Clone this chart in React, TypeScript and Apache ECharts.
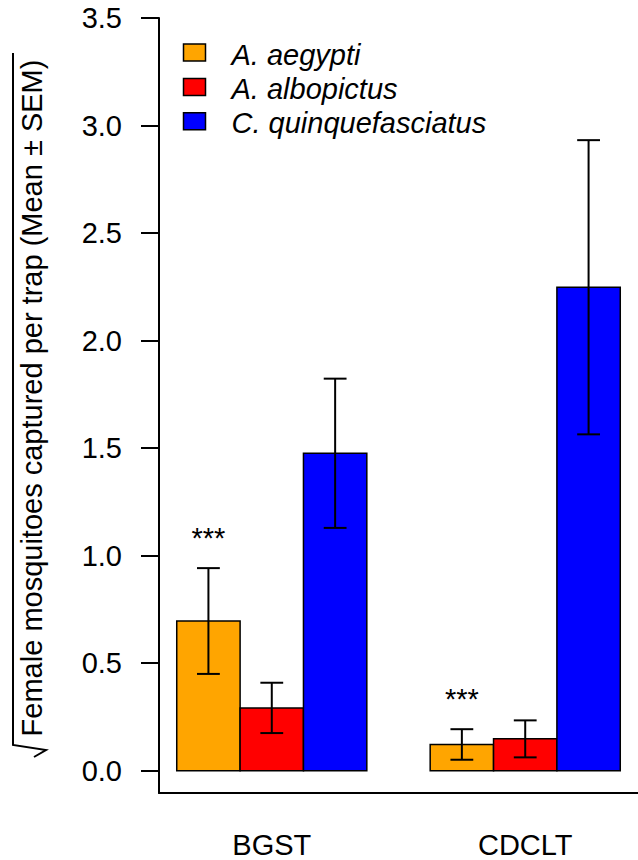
import React, { useEffect, useRef } from "react";
import * as echarts from "echarts";

const categories = ["BGST", "CDCLT"];
const speciesNames = ["A. aegypti", "A. albopictus", "C. quinquefasciatus"];
const speciesColors = ["#FFA500", "#FF0000", "#0000FF"];
const aegyptiMean = [0.696, 0.122];
const aegyptiSem = [0.246, 0.071];
const albopictusMean = [0.292, 0.148];
const albopictusSem = [0.117, 0.086];
const quinqueMean = [1.476, 2.248];
const quinqueSem = [0.347, 0.684];
const significance = ["***", "***"];
const yTicks = [0, 0.5, 1, 1.5, 2, 2.5, 3, 3.5];
const yTitle = "Female mosquitoes captured per trap (Mean \u00B1 SEM)";

const FONT = "'Liberation Sans', Arial, Helvetica, sans-serif";
const FS = 29;

export default function App() {
  const ref = useRef<HTMLDivElement>(null);
  useEffect(() => {
    if (!ref.current) return;
    const chart = echarts.init(ref.current, null, { renderer: "svg" });
    const means = [aegyptiMean, albopictusMean, quinqueMean];
    const sems = [aegyptiSem, albopictusSem, quinqueSem];

    const barSeries = speciesNames.map((name, s) => ({
      type: "custom",
      name,
      itemStyle: { color: speciesColors[s] },
      data: categories.map((_, g) => [g * 4 + 1 + s, means[s][g], sems[s][g]]),
      encode: { x: 0, y: 1 },
      renderItem: (params: any, api: any) => {
        const left = api.value(0);
        const m = api.value(1);
        const se = api.value(2);
        const p0 = api.coord([left, 0]);
        const p1 = api.coord([left + 1, m]);
        const cx = api.coord([left + 0.5, 0])[0];
        const top = api.coord([left + 0.5, m + se])[1];
        const bot = api.coord([left + 0.5, m - se])[1];
        const hw = api.size([0.18, 0])[0];
        const ls = { stroke: "#000", lineWidth: 2 };
        return {
          type: "group",
          children: [
            {
              type: "rect",
              shape: { x: p0[0], y: p1[1], width: p1[0] - p0[0], height: p0[1] - p1[1] },
              style: { fill: speciesColors[s], stroke: "#000", lineWidth: 1.5 },
            },
            { type: "line", shape: { x1: cx, y1: top, x2: cx, y2: bot }, style: ls },
            { type: "line", shape: { x1: cx - hw, y1: top, x2: cx + hw, y2: top }, style: ls },
            { type: "line", shape: { x1: cx - hw, y1: bot, x2: cx + hw, y2: bot }, style: ls },
          ],
        };
      },
    }));

    const sigOffset = 0.14;
    const sigSeries = {
      type: "custom",
      name: "sig",
      data: categories.map((_, g) => [g * 4 + 1.5, aegyptiMean[g] + aegyptiSem[g] + sigOffset, g]),
      encode: { x: 0, y: 1 },
      renderItem: (params: any, api: any) => {
        const p = api.coord([api.value(0), api.value(1)]);
        return {
          type: "text",
          x: p[0],
          y: p[1],
          style: {
            text: significance[api.value(2)],
            fontSize: FS,
            fontFamily: FONT,
            fill: "#000",
            align: "center",
            verticalAlign: "middle",
          },
        };
      },
    };

    const legendGraphics: any[] = [];
    speciesNames.forEach((name, i) => {
      legendGraphics.push({
        type: "rect",
        shape: { x: 183.5, y: 44 + i * 34.4, width: 22, height: 17 },
        style: { fill: speciesColors[i], stroke: "#000", lineWidth: 1.5 },
      });
      legendGraphics.push({
        type: "text",
        x: 231.5,
        y: 54.5 + i * 34.4,
        style: {
          text: name,
          fontSize: FS,
          fontStyle: "italic",
          fontFamily: FONT,
          fill: "#000",
          align: "left",
          verticalAlign: "middle",
        },
      });
    });

    chart.setOption({
      animation: false,
      backgroundColor: "#fff",
      grid: { left: 159, top: 18, width: 481.6, height: 775, containLabel: false },
      xAxis: {
        type: "value",
        min: 0.72,
        max: 8.28,
        splitLine: { show: false },
        axisLine: { show: true, onZero: false, lineStyle: { color: "#000", width: 2 } },
        axisTick: { show: false },
        axisLabel: {
          customValues: categories.map((_, g) => g * 4 + 2.5),
          formatter: (v: number) => categories[Math.round((v - 2.5) / 4)] ?? "",
          fontSize: FS,
          fontFamily: FONT,
          color: "#000",
          margin: 52,
          verticalAlign: "middle",
        },
      },
      yAxis: {
        type: "value",
        min: -0.1037,
        max: 3.5,
        splitLine: { show: false },
        axisLine: { show: true, lineStyle: { color: "#000", width: 2 } },
        axisTick: {
          show: true,
          length: 18,
          customValues: yTicks,
          lineStyle: { color: "#000", width: 2 },
        },
        axisLabel: {
          customValues: yTicks,
          formatter: (v: number) => v.toFixed(1),
          fontSize: FS,
          fontFamily: FONT,
          color: "#000",
          margin: 37,
        },
      },
      graphic: [
        ...legendGraphics,
        {
          type: "text",
          x: 32.2,
          y: 398,
          rotation: Math.PI / 2,
          style: {
            text: yTitle,
            fontSize: FS,
            fontFamily: FONT,
            fill: "#000",
            align: "center",
            verticalAlign: "middle",
          },
        },
        {
          type: "polyline",
          shape: { points: [[13, 53], [13, 745], [46, 750], [34, 757]] },
          style: { stroke: "#000", lineWidth: 2, fill: null },
        },
      ],
      series: [...barSeries, sigSeries],
    });
    return () => chart.dispose();
  }, []);
  return (
    <div
      ref={ref}
      style={{ position: "absolute", left: 0, top: 0, width: 638, height: 860, background: "#fff" }}
    />
  );
}
